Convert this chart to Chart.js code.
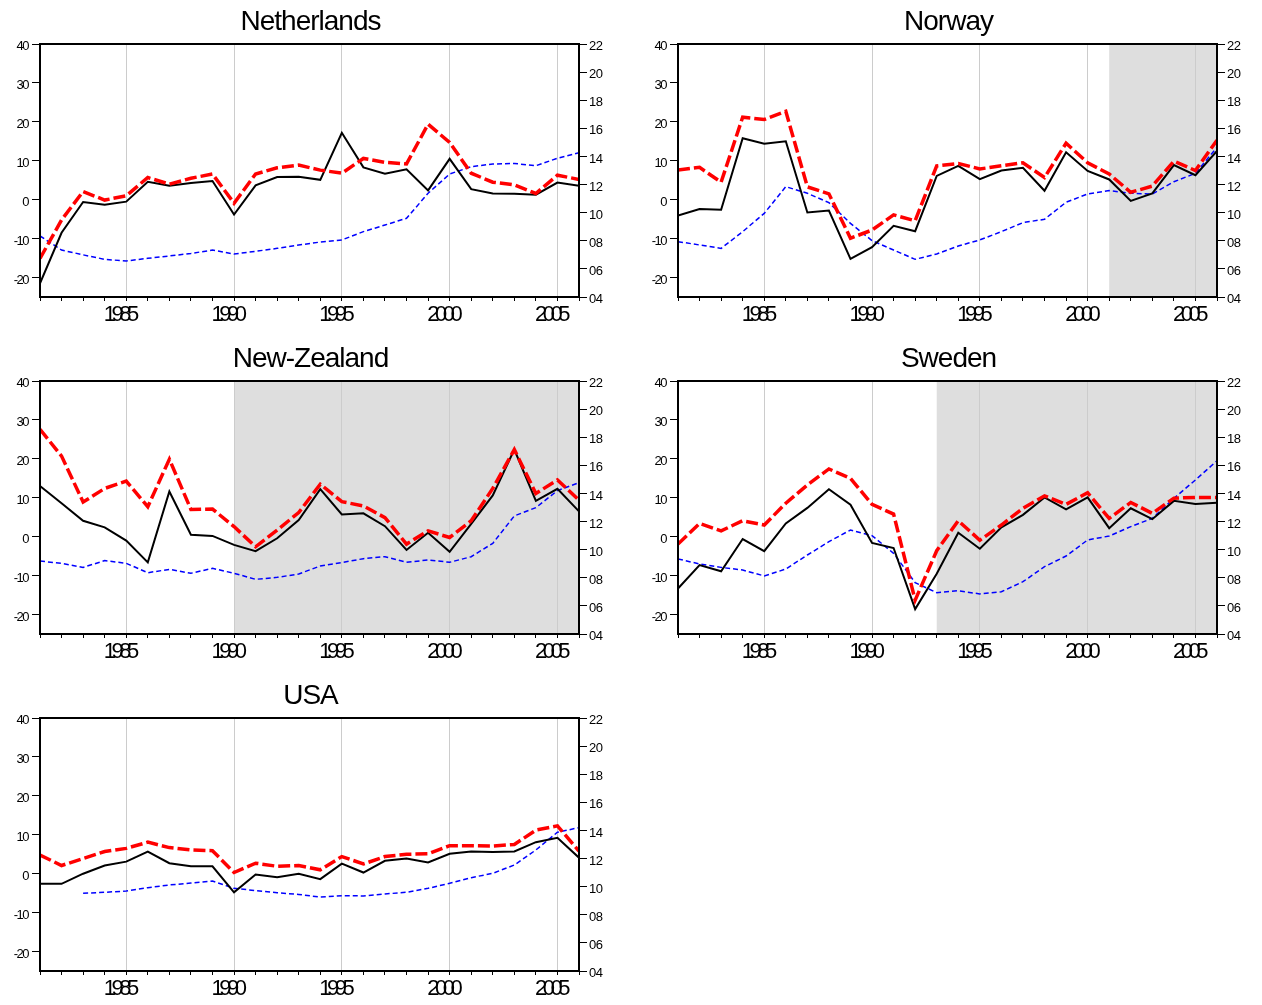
<!DOCTYPE html>
<html lang="en">
<head>
    <meta charset="UTF-8">
    <title>Country panels</title>
    <style>
        body {
            margin: 0;
            background: #ffffff;
            overflow: hidden;
        }
        .panel {
            position: absolute;
        }
    </style>
</head>
<body>
    <canvas class="panel" id="nl" width="621" height="331" style="left:0px;top:0px"></canvas>
    <canvas class="panel" id="no" width="621" height="331" style="left:638px;top:0px"></canvas>
    <canvas class="panel" id="nz" width="621" height="331" style="left:0px;top:337px"></canvas>
    <canvas class="panel" id="se" width="621" height="331" style="left:638px;top:337px"></canvas>
    <canvas class="panel" id="us" width="621" height="331" style="left:0px;top:674px"></canvas>

    <script src="https://cdn.jsdelivr.net/npm/chart.js"></script>
    <script>
        const years = [1981, 1982, 1983, 1984, 1985, 1986, 1987, 1988, 1989, 1990, 1991, 1992, 1993,
                       1994, 1995, 1996, 1997, 1998, 1999, 2000, 2001, 2002, 2003, 2004, 2005, 2006];

        // left axis: black solid + red dashed, right axis: blue dashed
        const nlBlack = [-21.5, -8.5, -0.6, -1.3, -0.5, 4.6, 3.6, 4.3, 4.8, -3.8, 3.7, 5.8, 5.9, 5.1, 17.2, 8.3, 6.7, 7.8, 2.4, 10.5, 2.7, 1.6, 1.5, 1.3, 4.4, 3.6];
        const nlRed = [-15.1, -5.2, 2.1, -0.1, 1.0, 5.7, 4.0, 5.5, 6.6, -0.9, 6.6, 8.2, 8.9, 7.6, 6.8, 10.6, 9.6, 9.2, 19.4, 14.7, 6.8, 4.5, 3.8, 1.6, 6.3, 5.2];
        const nlBlue = [8.34, 7.34, 7.0, 6.68, 6.56, 6.75, 6.92, 7.1, 7.34, 7.06, 7.25, 7.46, 7.7, 7.91, 8.06, 8.65, 9.12, 9.6, 11.38, 12.75, 13.27, 13.46, 13.5, 13.34, 13.87, 14.27];

        const noBlack = [-4.1, -2.4, -2.6, 15.8, 14.4, 15.0, -3.3, -2.8, -15.2, -12.2, -6.7, -8.1, 6.1, 8.7, 5.3, 7.5, 8.2, 2.3, 12.2, 7.4, 5.2, -0.3, 1.6, 8.9, 6.3, 12.5];
        const noRed = [7.6, 8.3, 4.5, 21.2, 20.6, 22.7, 3.3, 1.5, -9.9, -7.8, -3.9, -5.4, 8.7, 9.3, 7.9, 8.7, 9.5, 5.7, 14.5, 9.5, 6.6, 1.9, 3.5, 9.9, 7.5, 15.3];
        const noBlue = [7.94, 7.70, 7.46, 8.65, 9.95, 11.85, 11.38, 10.71, 9.24, 8.01, 7.34, 6.68, 7.06, 7.63, 8.06, 8.65, 9.29, 9.53, 10.74, 11.33, 11.57, 11.38, 11.33, 12.2, 12.8, 14.65];

        const nzBlack = [13.0, 8.6, 4.1, 2.4, -1.0, -6.6, 11.6, 0.5, 0.2, -2.1, -3.7, -0.4, 4.3, 12.2, 5.7, 6.0, 2.7, -3.4, 1.0, -3.9, 3.3, 10.6, 22.4, 9.2, 12.3, 6.5];
        const nzRed = [27.6, 20.7, 8.9, 12.4, 14.3, 7.7, 19.9, 7.0, 7.1, 2.6, -2.6, 1.7, 6.2, 13.5, 9.0, 7.9, 4.9, -1.9, 1.5, -0.2, 4.1, 12.4, 22.4, 11.1, 14.6, 9.4];
        const nzBlue = [9.19, 9.03, 8.74, 9.22, 9.03, 8.36, 8.6, 8.32, 8.67, 8.32, 7.89, 8.03, 8.27, 8.84, 9.08, 9.36, 9.5, 9.1, 9.27, 9.1, 9.5, 10.45, 12.4, 12.99, 14.2, 14.77];

        const seBlack = [-13.3, -7.3, -8.9, -0.6, -3.7, 3.4, 7.4, 12.2, 8.2, -1.6, -2.9, -18.6, -9.5, 1.0, -3.1, 2.4, 5.6, 10.1, 7.0, 10.1, 2.2, 7.3, 4.5, 9.2, 8.4, 8.7];
        const seRed = [-1.9, 3.4, 1.5, 4.1, 3.0, 8.6, 13.3, 17.4, 15.0, 8.3, 5.8, -16.3, -3.6, 4.1, -0.9, 3.0, 7.3, 10.5, 8.3, 11.3, 4.7, 8.8, 6.0, 9.9, 10.1, 10.1];
        const seBlue = [9.34, 8.98, 8.74, 8.55, 8.13, 8.62, 9.62, 10.57, 11.4, 11.0, 9.74, 7.65, 6.94, 7.08, 6.85, 7.01, 7.72, 8.79, 9.55, 10.69, 10.97, 11.64, 12.23, 13.65, 14.96, 16.33];

        const usBlack = [-2.6, -2.6, 0.0, 2.1, 3.1, 5.7, 2.7, 1.9, 1.9, -4.8, -0.2, -0.9, 0.0, -1.4, 2.6, 0.3, 3.3, 3.9, 2.9, 5.1, 5.7, 5.6, 5.7, 8.1, 9.2, 4.1];
        const usRed = [4.8, 2.1, 3.9, 5.7, 6.5, 8.1, 6.7, 6.1, 5.9, 0.3, 2.7, 1.9, 2.1, 1.0, 4.4, 2.5, 4.4, 5.0, 5.1, 7.2, 7.2, 7.1, 7.5, 11.2, 12.3, 5.8];
        const usBlue = [null, null, 9.53, 9.6, 9.69, 9.93, 10.12, 10.26, 10.4, 9.88, 9.72, 9.57, 9.45, 9.26, 9.36, 9.34, 9.48, 9.6, 9.88, 10.24, 10.64, 10.95, 11.54, 12.61, 13.87, 14.2];

        const leftTicks = [-20, -10, 0, 10, 20, 30, 40];
        const rightTicks = [4, 6, 8, 10, 12, 14, 16, 18, 20, 22];

        // linear scale whose tick labels can be drawn tighter
        class SqueezeScale extends Chart.LinearScale {
            drawLabels(area) {
                const ctx = this.ctx;
                ctx.save();
                ctx.letterSpacing = this.options.squeeze || '0px';
                super.drawLabels(area);
                ctx.restore();
            }
        }
        SqueezeScale.id = 'squeeze';
        SqueezeScale.defaults = Chart.LinearScale.defaults;
        Chart.register(SqueezeScale);

        Chart.defaults.font.family = '"Liberation Sans", Arial, sans-serif';
        Chart.defaults.color = '#000';

        const shadePlugin = {
            id: 'shade',
            beforeDraw(chart, args, opts) {
                const ctx = chart.ctx;
                ctx.letterSpacing = '-1px';
                if (opts.from == null) return;
                const x = chart.scales.x;
                const a = chart.chartArea;
                const x0 = x.getPixelForValue(opts.from);
                const x1 = x.getPixelForValue(opts.to);
                ctx.save();
                ctx.fillStyle = '#dedede';
                ctx.fillRect(x0, a.top, x1 - x0, a.bottom - a.top);
                ctx.restore();
            },
            afterDraw(chart) {
                const ctx = chart.ctx;
                const a = chart.chartArea;
                ctx.save();
                ctx.strokeStyle = '#000';
                ctx.lineWidth = 2;
                ctx.strokeRect(a.left, a.top, a.right - a.left, a.bottom - a.top);
                ctx.restore();
                ctx.letterSpacing = '0px';
            }
        };

        function points(vals) {
            return years.map((yr, i) => ({ x: yr, y: vals[i] }));
        }

        function makePanel(id, title, black, red, blue, shade) {
            return new Chart(document.getElementById(id), {
                type: 'line',
                data: {
                    datasets: [
                        { data: points(red), borderColor: '#ff0000', borderWidth: 3.5, borderDash: [12, 4], yAxisID: 'y' },
                        { data: points(black), borderColor: '#000000', borderWidth: 2, yAxisID: 'y' },
                        { data: points(blue), borderColor: '#0000ff', borderWidth: 1.5, borderDash: [5, 3], yAxisID: 'y2' }
                    ]
                },
                options: {
                    responsive: false,
                    animation: false,
                    events: [],
                    elements: { point: { radius: 0 }, line: { tension: 0 } },
                    layout: { padding: 0 },
                    plugins: {
                        legend: { display: false },
                        tooltip: { enabled: false },
                        title: {
                            display: true,
                            text: title,
                            font: { size: 28, weight: 'normal' },
                            padding: { top: 5, bottom: 5.4 }
                        },
                        shade: shade || {}
                    },
                    scales: {
                        x: {
                            type: 'squeeze',
                            squeeze: '-4.5px',
                            min: years[0],
                            max: years[years.length - 1],
                            afterFit: s => { s.height = 34; },
                            ticks: {
                                stepSize: 1,
                                autoSkip: false,
                                maxRotation: 0,
                                padding: 1,
                                labelOffset: -7,
                                font: { size: 22 },
                                callback: v => v % 5 === 0 ? String(v) : ''
                            },
                            grid: {
                                color: c => (c.tick && c.tick.value % 5 === 0) ? '#cccccc' : 'rgba(0,0,0,0)',
                                tickColor: '#000',
                                tickLength: 4,
                                lineWidth: 1
                            },
                            border: { display: false }
                        },
                        y: {
                            type: 'squeeze',
                            squeeze: '-1.5px',
                            position: 'left',
                            min: -25,
                            max: 40,
                            afterFit: s => { s.width = 40; },
                            afterBuildTicks: s => { s.ticks = leftTicks.map(v => ({ value: v })); },
                            ticks: { font: { size: 13 }, padding: 4, labelOffset: 2.5 },
                            grid: { drawOnChartArea: false, tickLength: 8, color: '#000' },
                            border: { display: false }
                        },
                        y2: {
                            type: 'squeeze',
                            squeeze: '-0.5px',
                            position: 'right',
                            min: 4,
                            max: 22,
                            afterFit: s => { s.width = 42; },
                            afterBuildTicks: s => { s.ticks = rightTicks.map(v => ({ value: v })); },
                            ticks: {
                                font: { size: 13 },
                                padding: 2,
                                labelOffset: 2.5,
                                callback: v => String(v).padStart(2, '0')
                            },
                            grid: { drawOnChartArea: false, tickLength: 8, color: '#000' },
                            border: { display: false }
                        }
                    }
                },
                plugins: [shadePlugin]
            });
        }

        makePanel('nl', 'Netherlands', nlBlack, nlRed, nlBlue);
        makePanel('no', 'Norway', noBlack, noRed, noBlue, { from: 2001, to: 2006 });
        makePanel('nz', 'New-Zealand', nzBlack, nzRed, nzBlue, { from: 1990, to: 2006 });
        makePanel('se', 'Sweden', seBlack, seRed, seBlue, { from: 1993, to: 2006 });
        makePanel('us', 'USA', usBlack, usRed, usBlue);
    </script>
</body>
</html>
